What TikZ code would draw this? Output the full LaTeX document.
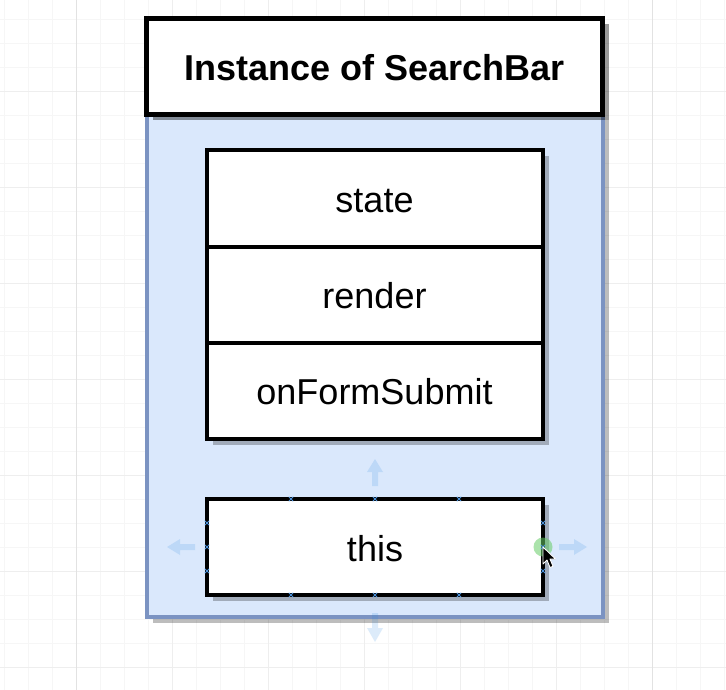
\documentclass[tikz,border=0pt]{standalone}
\usepackage{fontspec}
\setmainfont{Liberation Sans}
\usetikzlibrary{shadows}
\definecolor{gridminor}{HTML}{F6F6F6}
\definecolor{gridmajor}{HTML}{EEEEEE}
\definecolor{gridpage}{HTML}{E2E2E2}
\definecolor{bodyfill}{HTML}{DAE8FC}
\definecolor{bodyline}{HTML}{7B93C2}
\definecolor{hoverblue}{RGB}{41,135,225}
\definecolor{markblue}{HTML}{4A90D9}
\definecolor{cursorgreen}{HTML}{66CC66}
\tikzset{
  minorgrid/.style={draw=gridminor,line width=0.8pt},
  majorgrid/.style={draw=gridmajor,line width=0.9pt},
  pagegrid/.style={draw=gridpage,line width=0.9pt},
  boxshadow/.style={drop shadow={shadow xshift=6pt,shadow yshift=-6pt,fill=black,opacity=0.26}},
  titlebox/.style={draw=black,fill=white,line width=4.5pt,minimum width=456pt,minimum height=96pt,
    inner sep=0pt,font=\fontsize{36}{43}\selectfont\bfseries,text height=31pt,text depth=3pt,
    drop shadow={shadow xshift=6pt,shadow yshift=-6pt,fill=black,opacity=0.4}},
  bodybox/.style={draw=bodyline,fill=bodyfill,line width=4pt,minimum width=456pt,minimum height=502.5pt,
    inner sep=0pt,boxshadow},
  itembox/.style={draw=black,fill=white,line width=4pt,minimum width=336pt,minimum height=96pt,
    inner sep=0pt,font=\fontsize{36}{43}\selectfont,text height=31pt,text depth=3pt,boxshadow},
  hover/.style={fill=hoverblue,opacity=0.16},
  marker/.style={draw=markblue,line width=0.8pt},
}
\begin{document}
\begin{tikzpicture}[x=1pt,y=-1pt]
\useasboundingbox (0,0) rectangle (726,690);
\fill[white] (0,0) rectangle (726,690);
% grid
\foreach \x in {4,28,...,724} \draw[minorgrid] (\x,0) -- (\x,690);
\foreach \y in {19,43,...,690} \draw[minorgrid] (0,\y) -- (726,\y);
\foreach \x in {172,268,...,556} \draw[majorgrid] (\x,0) -- (\x,690);
\foreach \y in {91,187,...,667} \draw[majorgrid] (0,\y) -- (726,\y);
\foreach \x in {76,652} \draw[pagegrid] (\x,0) -- (\x,690);
% container
\node[bodybox] (body) at (374.5,365.75) {};
\node[titlebox] (title) at (374.5,66.5) {Instance of SearchBar};
% members
\node[itembox] (state) at (374.5,198.5) {state};
\node[itembox] (render) at (374.5,294.5) {render};
\node[itembox] (submit) at (374.5,390.5) {onFormSubmit};
\node[itembox] (this) at (375,547) {this};
% hover arrows
\fill[hover] (375,459) -- (383,472) -- (378,472) -- (378,486) -- (372,486) -- (372,472) -- (367,472) -- cycle;
\fill[hover] (375,642) -- (383,628) -- (378,628) -- (378,613) -- (372,613) -- (372,628) -- (367,628) -- cycle;
\fill[hover] (167,547) -- (180,539) -- (180,544) -- (195,544) -- (195,550) -- (180,550) -- (180,555) -- cycle;
\fill[hover] (587,547) -- (574,539) -- (574,544) -- (559,544) -- (559,550) -- (574,550) -- (574,555) -- cycle;
% connection markers
\foreach \p in {(291,499),(375,499),(459,499),(291,595),(375,595),(459,595),
                (207,523),(207,547),(207,571),(543,523),(543,571)}
  \draw[marker] \p ++(-2.2,-2.2) -- ++(4.4,4.4) \p ++(-2.2,2.2) -- ++(4.4,-4.4);
% hovered point and cursor
\fill[cursorgreen,opacity=0.55] (543,547) circle (9.5);
\draw[marker] (543,547) ++(-2.2,-2.2) -- ++(4.4,4.4) (543,547) ++(-2.2,2.2) -- ++(4.4,-4.4);
\filldraw[fill=black,draw=white,line width=0.9pt,line join=round]
  (543,547) -- (543,564) -- (547,560) -- (550,567.5) -- (553,566.3) -- (550,559) -- (555.5,559) -- cycle;
\end{tikzpicture}
\end{document}
